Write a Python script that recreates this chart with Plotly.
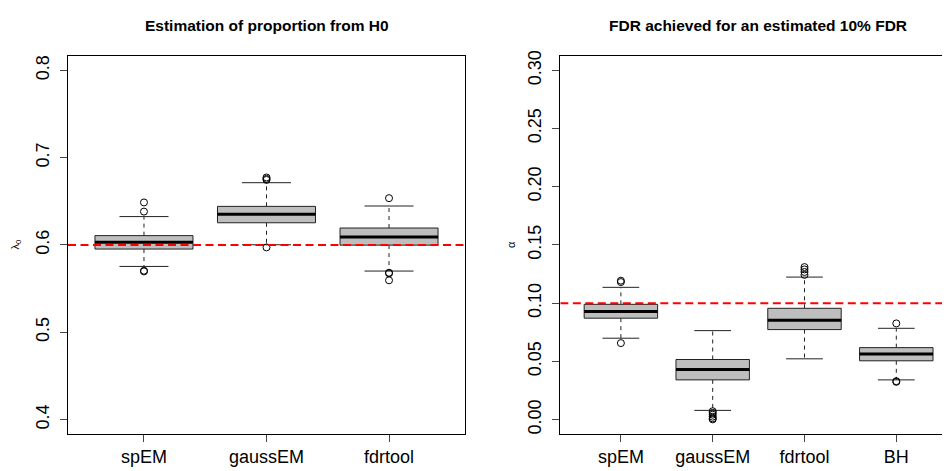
import plotly.graph_objects as go

# ---------------- data ----------------
cats_left = ["spEM", "gaussEM", "fdrtool"]
lam_q1 = [0.5953, 0.6254, 0.5998]
lam_med = [0.6032, 0.6352, 0.6092]
lam_q3 = [0.6107, 0.6442, 0.6194]
lam_lo = [0.5754, 0.6002, 0.5701]
lam_hi = [0.6325, 0.6713, 0.6446]
lam_out = [[0.6487, 0.6382, 0.5705, 0.5697],
           [0.6773, 0.6757, 0.6745, 0.5972],
           [0.6536, 0.5682, 0.5675, 0.5595]]
lam_ref = 0.6
lam_ticks = [0.4, 0.5, 0.6, 0.7, 0.8]

cats_right = ["spEM", "gaussEM", "fdrtool", "BH"]
fdr_q1 = [0.0871, 0.0341, 0.0773, 0.0505]
fdr_med = [0.0928, 0.0431, 0.0854, 0.0564]
fdr_q3 = [0.0990, 0.0516, 0.0956, 0.0618]
fdr_lo = [0.0699, 0.0079, 0.0522, 0.0341]
fdr_hi = [0.1136, 0.0764, 0.1224, 0.0784]
fdr_out = [[0.1193, 0.1181, 0.0657],
           [0.0072, 0.0058, 0.0042, 0.0025, 0.0010, 0.0002],
           [0.1310, 0.1290, 0.1268, 0.1243],
           [0.0826, 0.0330, 0.0324]]
fdr_ref = 0.10
fdr_ticks = [0.00, 0.05, 0.10, 0.15, 0.20, 0.25, 0.30]

title_left = "Estimation of proportion from H0"
title_right = "FDR achieved for an estimated 10% FDR"

FONT = "Liberation Sans, Arial, Helvetica, sans-serif"
BOXW = 0.4   # half box width
CAPW = 0.2   # half staple width

fig = go.Figure()


def add_boxplot(q1, med, q3, lo, hi, outs, xa, ya, xmin, xmax, ref):
    n = len(q1)
    bx, by, mx, my, wx, wy, cx, cy, ox, oy = [], [], [], [], [], [], [], [], [], []
    for i in range(n):
        p = i + 1
        bx += [p - BOXW, p + BOXW, p + BOXW, p - BOXW, p - BOXW, None]
        by += [q1[i], q1[i], q3[i], q3[i], q1[i], None]
        mx += [p - BOXW, p + BOXW, None]
        my += [med[i], med[i], None]
        wx += [p, p, None, p, p, None]
        wy += [q3[i], hi[i], None, q1[i], lo[i], None]
        cx += [p - CAPW, p + CAPW, None, p - CAPW, p + CAPW, None]
        cy += [hi[i], hi[i], None, lo[i], lo[i], None]
        ox += [p] * len(outs[i])
        oy += outs[i]
    common = dict(xaxis=xa, yaxis=ya, showlegend=False, hoverinfo="skip")
    fig.add_trace(go.Scatter(x=wx, y=wy, mode="lines",
                             line=dict(color="#222", width=1, dash="4px,4px"), **common))
    fig.add_trace(go.Scatter(x=cx, y=cy, mode="lines",
                             line=dict(color="#222", width=1), **common))
    fig.add_trace(go.Scatter(x=bx, y=by, mode="lines", fill="toself",
                             fillcolor="#BEBEBE",
                             line=dict(color="#222", width=1), **common))
    fig.add_trace(go.Scatter(x=mx, y=my, mode="lines",
                             line=dict(color="#000", width=3), **common))
    fig.add_trace(go.Scatter(x=ox, y=oy, mode="markers",
                             marker=dict(symbol="circle-open", size=7,
                                         color="#000", line=dict(width=1)), **common))
    fig.add_trace(go.Scatter(x=[xmin, xmax], y=[ref, ref], mode="lines",
                             line=dict(color="#FF0000", width=2, dash="8px,4.5px"),
                             **common))


add_boxplot(lam_q1, lam_med, lam_q3, lam_lo, lam_hi, lam_out, "x", "y", 0.38, 3.62, lam_ref)
add_boxplot(fdr_q1, fdr_med, fdr_q3, fdr_lo, fdr_hi, fdr_out, "x2", "y2", 0.34, 4.66, fdr_ref)

# page body has an 8px margin: figure is sized/offset to land on the 950x471 window
OFF = 8
W, H = 950 - OFF, 471 - OFF


def px(sx):
    return (sx - OFF) / W


def py(sy):
    return (H - (sy - OFF)) / H


ydom = [py(434), py(51)]

axis_common = dict(showgrid=False, zeroline=False, showline=True, linecolor="#000",
                   linewidth=1, ticks="outside", ticklen=7, tickcolor="#444",
                   tickfont=dict(family=FONT, size=18, color="#000"))

fig.update_layout(
    width=W, height=H,
    margin=dict(l=0, r=0, t=0, b=0),
    paper_bgcolor="white", plot_bgcolor="white",
    xaxis=dict(domain=[px(68), px(465)], range=[0.38, 3.62],
               tickvals=list(range(1, len(cats_left) + 1)), ticktext=cats_left,
               mirror=True, anchor="y", **axis_common),
    yaxis=dict(domain=ydom, range=[0.384, 0.816], tickvals=lam_ticks,
               tickformat=".1f", tickangle=-90, mirror=True, anchor="x",
               ticklabelstandoff=4, **axis_common),
    xaxis2=dict(domain=[px(560.3), 1.0], range=[0.34, 4.585],
                tickvals=list(range(1, len(cats_right) + 1)), ticktext=cats_right,
                mirror=True, anchor="y2", **axis_common),
    yaxis2=dict(domain=ydom, range=[-0.012, 0.312], tickvals=fdr_ticks,
                tickformat=".2f", tickangle=-90, mirror=False, anchor="x2",
                ticklabelstandoff=4, **axis_common),
    annotations=[
        dict(text="<b>" + title_left + "</b>", x=px(266.7), y=py(20),
             xref="paper", yref="paper", showarrow=False,
             font=dict(family=FONT, size=15.5, color="#000"),
             xanchor="center", yanchor="middle"),
        dict(text="<b>" + title_right + "</b>", x=px(758.3), y=py(20),
             xref="paper", yref="paper", showarrow=False,
             font=dict(family=FONT, size=15.5, color="#000"),
             xanchor="center", yanchor="middle"),
        dict(text="λ<sub>0</sub>", x=px(16), y=py(242), textangle=-90,
             xref="paper", yref="paper", showarrow=False,
             font=dict(family=FONT, size=11, color="#000"),
             xanchor="center", yanchor="middle"),
        dict(text="α", x=px(511.5), y=py(242), textangle=-90,
             xref="paper", yref="paper", showarrow=False,
             font=dict(family=FONT, size=11, color="#000"),
             xanchor="center", yanchor="middle"),
    ],
)

fig.write_html("out.html", config={"displayModeBar": False})
